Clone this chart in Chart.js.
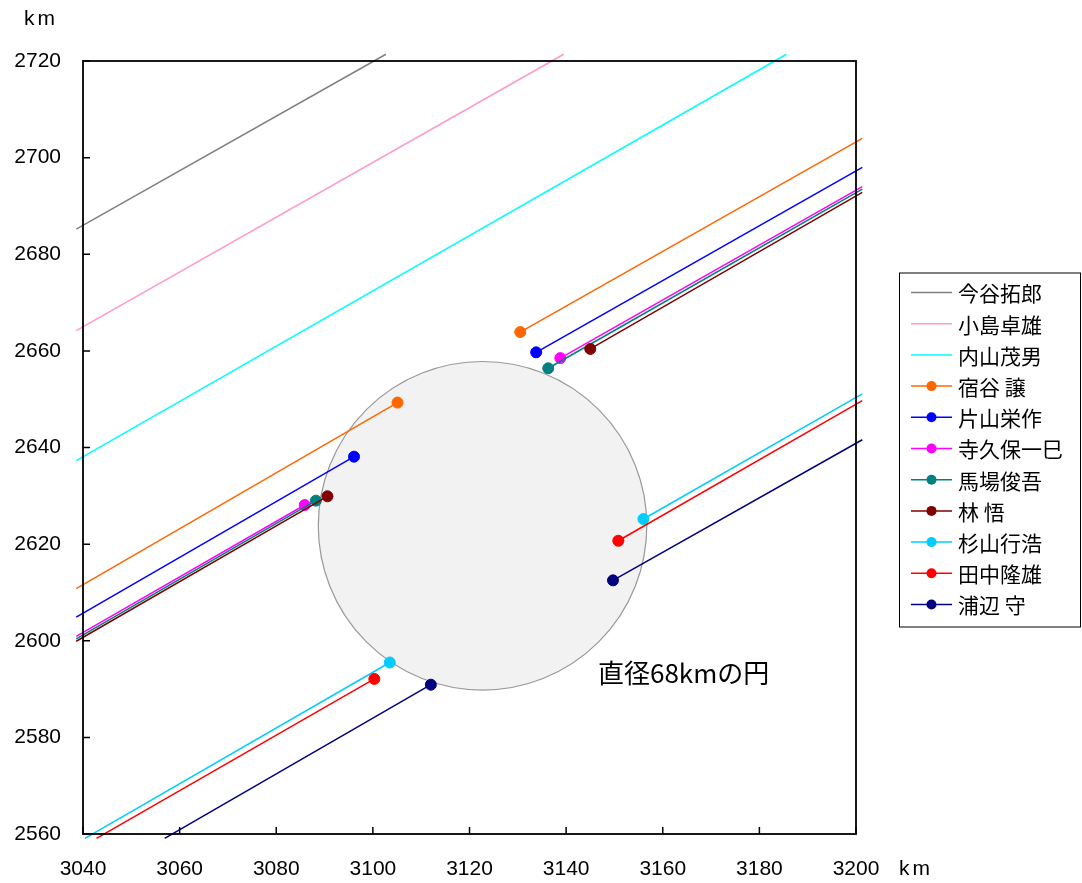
<!DOCTYPE html>
<html lang="ja">
<head>
<meta charset="UTF-8">
<title>直径68kmの円</title>
<script src="https://cdn.jsdelivr.net/npm/chart.js@4.4.1/dist/chart.umd.min.js"></script>
<style>
    html, body { margin: 0; padding: 0; background: #fff; }
    #wrap { width: 1082px; height: 883px; }
</style>
</head>
<body>
<div id="wrap"><canvas id="track-chart" width="1082" height="883"></canvas></div>
<script>
// Observer names, in legend order
const names = ['今谷拓郎', '小島卓雄', '内山茂男', '宿谷 譲', '片山栄作', '寺久保一巳', '馬場俊吾', '林 悟', '杉山行浩', '田中隆雄', '浦辺 守'];

// Start of each track (km)
const startX = [3038.6, 3038.6, 3038.6, 3038.6, 3038.6, 3038.6, 3038.6, 3038.6, 3040.4, 3042.8, 3056.9];
const startY = [2685.2, 2664.2, 2637.3, 2610.8, 2604.9, 2600.9, 2600.4, 2599.9, 2559.1, 2559.1, 2559.1];

// Marked point where the track breaks off (null = no break)
const inX = [null, null, null, 3105.1, 3096.1, 3085.9, 3088.2, 3090.6, 3103.5, 3100.3, 3112.0];
const inY = [null, null, null, 2649.3, 2638.1, 2628.1, 2629.0, 2629.9, 2595.5, 2592.1, 2590.9];

// Marked point where the track starts again
const outX = [null, null, null, 3130.5, 3133.8, 3138.8, 3136.3, 3145.0, 3156.0, 3150.8, 3149.7];
const outY = [null, null, null, 2663.9, 2659.7, 2658.5, 2656.4, 2660.4, 2625.2, 2620.7, 2612.5];

// End of each track
const endX = [3102.7, 3139.5, 3185.6, 3201.3, 3201.3, 3201.3, 3201.3, 3201.3, 3201.3, 3201.3, 3201.3];
const endY = [2721.4, 2721.4, 2721.4, 2704.0, 2698.0, 2694.0, 2693.5, 2692.8, 2651.1, 2649.7, 2641.6];

// The circle
const circleCenterX = 3122.7;
const circleCenterY = 2623.8;
const circleDiameter = 68;
const circleLabel = '直径68kmの円';
const circleLabelX = 3146.6;
const circleLabelY = 2593.4;

// Axis range and tick step
const xMin = 3040, xMax = 3200;
const yMin = 2560, yMax = 2720;
const tickStep = 20;

// Line colours
const colors = ['#808080', '#FF99CC', '#00FFFF', '#FF6600', '#0000FF', '#FF00FF', '#008080', '#800000', '#00CCFF', '#FF0000', '#000080'];

const LABEL_FONT = '21px "Liberation Sans", Arial, sans-serif';
const JP_FONT = '"Noto Sans CJK JP", "Noto Sans", sans-serif';

// Build one track as points, with a gap between the two marked points
function buildTrack(i) {
    const points = [{ x: startX[i], y: startY[i] }];
    const radius = [0];
    if (inX[i] !== null) {
        points.push({ x: inX[i], y: inY[i] });
        points.push({ x: (inX[i] + outX[i]) / 2, y: null });
        points.push({ x: outX[i], y: outY[i] });
        radius.push(5.5, 0, 5.5);
    }
    points.push({ x: endX[i], y: endY[i] });
    radius.push(0);
    return { points, radius };
}

const datasets = names.map((name, i) => {
    const track = buildTrack(i);
    return {
        label: name,
        data: track.points,
        showLine: true,
        spanGaps: false,
        borderColor: colors[i],
        backgroundColor: colors[i],
        borderWidth: 1.5,
        pointRadius: track.radius,
        pointHoverRadius: track.radius,
        pointBorderWidth: 1,
        pointBorderColor: colors[i],
        clip: false,
        order: names.length - i,
        hasMarker: inX[i] !== null,
    };
});

// Shaded circle under the tracks
const circlePlugin = {
    id: 'circle',
    beforeDatasetsDraw(chart) {
        const { ctx, scales: { x, y } } = chart;
        const cx = x.getPixelForValue(circleCenterX);
        const cy = y.getPixelForValue(circleCenterY);
        const r = x.getPixelForValue(circleCenterX + circleDiameter / 2) - cx;
        ctx.save();
        ctx.beginPath();
        ctx.arc(cx, cy, r, 0, Math.PI * 2);
        ctx.fillStyle = '#F2F2F2';
        ctx.fill();
        ctx.lineWidth = 1.2;
        ctx.strokeStyle = '#999999';
        ctx.stroke();
        ctx.restore();
    },
    afterDatasetsDraw(chart) {
        const { ctx, scales: { x, y } } = chart;
        ctx.save();
        ctx.font = '26px ' + JP_FONT;
        ctx.fillStyle = '#000';
        ctx.textBaseline = 'middle';
        ctx.fillText(circleLabel, x.getPixelForValue(circleLabelX), y.getPixelForValue(circleLabelY));
        ctx.restore();
    }
};

// Plot frame, inward tick marks, unit labels and the boxed legend
const framePlugin = {
    id: 'frame',
    afterDraw(chart) {
        const { ctx, chartArea: a, scales: { x, y } } = chart;
        ctx.save();

        // inward ticks
        ctx.strokeStyle = '#000';
        ctx.lineWidth = 1.5;
        ctx.beginPath();
        x.ticks.forEach(t => {
            const px = x.getPixelForValue(t.value);
            ctx.moveTo(px, a.bottom);
            ctx.lineTo(px, a.bottom - 7);
        });
        y.ticks.forEach(t => {
            const py = y.getPixelForValue(t.value);
            ctx.moveTo(a.left, py);
            ctx.lineTo(a.left + 7, py);
        });
        ctx.stroke();

        // frame
        ctx.lineWidth = 1.8;
        ctx.strokeRect(a.left, a.top, a.right - a.left, a.bottom - a.top);

        // km units
        ctx.font = LABEL_FONT;
        ctx.fillStyle = '#000';
        ctx.textAlign = 'center';
        ctx.textBaseline = 'middle';
        ctx.letterSpacing = '3px';
        ctx.fillText('km', a.left - 42, a.top - 42);
        ctx.fillText('km', a.right + 60, a.bottom + 35);
        ctx.letterSpacing = '0px';

        // legend
        const rowH = 31.2;
        const boxW = 181, boxH = 354;
        const bx = a.right + 43;
        const by = (a.top + a.bottom) / 2 - boxH / 2 + 2;
        ctx.lineWidth = 1;
        ctx.strokeStyle = '#000';
        ctx.strokeRect(bx + 0.5, by + 0.5, boxW, boxH);
        ctx.font = '21px ' + JP_FONT;
        ctx.textAlign = 'left';
        chart.data.datasets.forEach((ds, i) => {
            const ry = by + 20 + i * rowH;
            ctx.strokeStyle = ds.borderColor;
            ctx.lineWidth = 1.5;
            ctx.beginPath();
            ctx.moveTo(bx + 12, ry);
            ctx.lineTo(bx + 53, ry);
            ctx.stroke();
            if (ds.hasMarker) {
                ctx.fillStyle = ds.backgroundColor;
                ctx.beginPath();
                ctx.arc(bx + 32.5, ry, 5, 0, Math.PI * 2);
                ctx.fill();
            }
            ctx.fillStyle = '#000';
            ctx.fillText(ds.label, bx + 59, ry + 1);
        });
        ctx.restore();
    }
};

const chart = new Chart(document.getElementById('track-chart'), {
    type: 'scatter',
    data: { datasets },
    options: {
        responsive: false,
        animation: false,
        layout: { padding: { top: 61, right: 226, bottom: 0, left: 0 } },
        plugins: {
            legend: { display: false },
            tooltip: { enabled: false },
        },
        scales: {
            x: {
                type: 'linear',
                min: xMin,
                max: xMax,
                grid: { display: false },
                border: { display: false },
                afterFit: scale => { scale.height = 49; },
                ticks: {
                    stepSize: tickStep,
                    padding: 15,
                    color: '#000',
                    font: { family: '"Liberation Sans", Arial, sans-serif', size: 21 },
                    callback: v => String(v),
                    maxRotation: 0,
                },
            },
            y: {
                type: 'linear',
                min: yMin,
                max: yMax,
                grid: { display: false },
                border: { display: false },
                afterFit: scale => { scale.width = 83; },
                ticks: {
                    stepSize: tickStep,
                    padding: 14,
                    color: '#000',
                    font: { family: '"Liberation Sans", Arial, sans-serif', size: 21 },
                    callback: v => String(v),
                },
            },
        },
    },
    plugins: [circlePlugin, framePlugin],
});
</script>
</body>
</html>
